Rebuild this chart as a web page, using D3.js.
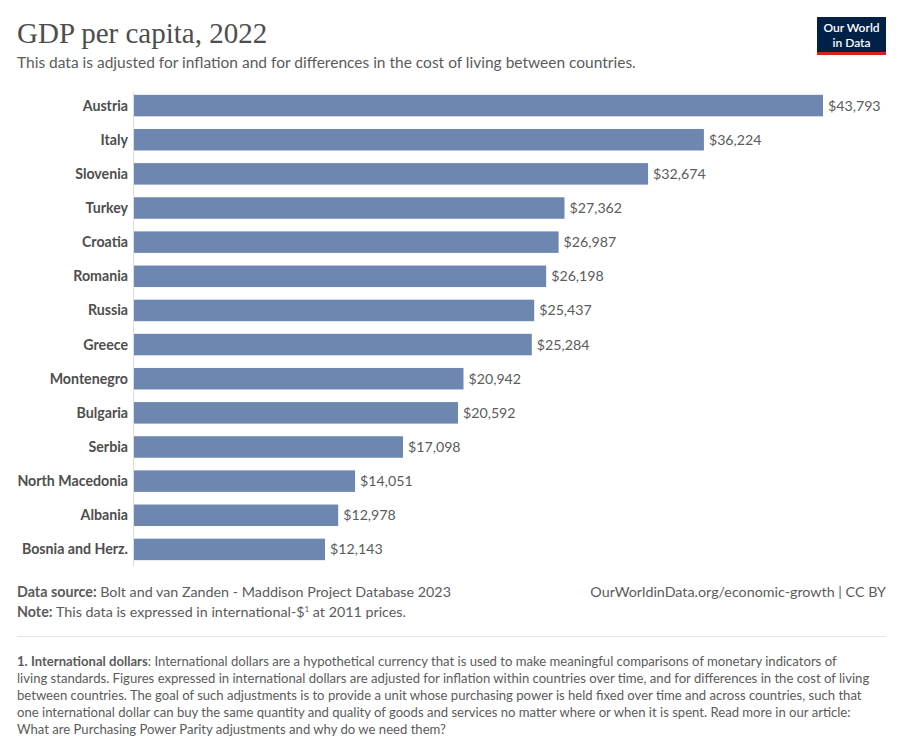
<!DOCTYPE html>
<html>
<head>
<meta charset="utf-8">
<script src="https://cdn.jsdelivr.net/npm/d3@7"></script>
<style>
  body { margin: 0; background: #fff; }
  svg { display: block; font-family: Lato, "Noto Sans", sans-serif; }
</style>
</head>
<body>
<svg id="chart" width="903" height="750"></svg>
<script>
var countries = ["Austria", "Italy", "Slovenia", "Turkey", "Croatia", "Romania", "Russia",
  "Greece", "Montenegro", "Bulgaria", "Serbia", "North Macedonia", "Albania", "Bosnia and Herz."];
var gdp = [43793, 36224, 32674, 27362, 26987, 26198, 25437, 25284, 20942, 20592, 17098, 14051, 12978, 12143];

var footnoteLines = [
  "living standards. Figures expressed in international dollars are adjusted for inflation within countries over time, and for differences in the cost of living",
  "between countries. The goal of such adjustments is to provide a unit whose purchasing power is held fixed over time and across countries, such that",
  "one international dollar can buy the same quantity and quality of goods and services no matter where or when it is spent. Read more in our article:",
  "What are Purchasing Power Parity adjustments and why do we need them?"
];

var svg = d3.select("#chart");

// header
svg.append("text")
  .attr("x", 17).attr("y", 43)
  .style("font-family", "'Liberation Serif', 'DejaVu Serif', serif")
  .style("font-size", "29px")
  .style("fill", "#4e4e4e")
  .text("GDP per capita, 2022");

svg.append("text")
  .attr("x", 17).attr("y", 68)
  .style("font-size", "15.5px")
  .style("fill", "#5b5b5b")
  .text("This data is adjusted for inflation and for differences in the cost of living between countries.");

// logo
var logo = svg.append("g").attr("transform", "translate(817,17)");
logo.append("rect").attr("width", 69).attr("height", 38).style("fill", "#002147");
logo.append("rect").attr("y", 35).attr("width", 69).attr("height", 3).style("fill", "#ce261e");
logo.append("text").attr("x", 34.5).attr("y", 15).attr("text-anchor", "middle")
  .style("font-size", "12px").style("fill", "#fff").style("font-weight", "600")
  .text("Our World");
logo.append("text").attr("x", 34.5).attr("y", 29.5).attr("text-anchor", "middle")
  .style("font-size", "12px").style("fill", "#fff").style("font-weight", "600")
  .text("in Data");

// scales
var x = d3.scaleLinear().domain([0, d3.max(gdp)]).range([134, 823]);
var y = d3.scaleBand().domain(countries).range([88, 567]).paddingInner(0.37).paddingOuter(0.2);

var data = countries.map(function (c, i) { return { name: c, value: gdp[i] }; });

// vertical axis line
svg.append("line")
  .attr("x1", 133.5).attr("x2", 133.5)
  .attr("y1", 92).attr("y2", 566)
  .style("stroke", "#dddddd").style("stroke-width", 1);

svg.append("g")
  .selectAll("rect")
  .data(data)
  .enter()
  .append("rect")
  .attr("x", x(0))
  .attr("y", function (d) { return y(d.name); })
  .attr("width", function (d) { return x(d.value) - x(0); })
  .attr("height", y.bandwidth())
  .style("fill", "#6d87b0");

svg.append("g")
  .selectAll("text")
  .data(data)
  .enter()
  .append("text")
  .attr("x", 128)
  .attr("y", function (d) { return y(d.name) + y.bandwidth() / 2; })
  .attr("dy", "0.35em")
  .attr("text-anchor", "end")
  .style("font-size", "14.2px")
  .style("font-weight", "bold")
  .style("fill", "#4e4e4e")
  .text(function (d) { return d.name; });

svg.append("g")
  .selectAll("text")
  .data(data)
  .enter()
  .append("text")
  .attr("x", function (d) { return x(d.value) + 5; })
  .attr("y", function (d) { return y(d.name) + y.bandwidth() / 2; })
  .attr("dy", "0.35em")
  .style("font-size", "14.2px")
  .style("fill", "#5b5b5b")
  .text(function (d) { return "$" + d3.format(",")(d.value); });

// footer
var src = svg.append("text").attr("x", 17).attr("y", 597)
  .style("font-size", "14.3px").style("fill", "#5b5b5b");
src.append("tspan").style("font-weight", "bold").text("Data source: ");
src.append("tspan").text("Bolt and van Zanden - Maddison Project Database 2023");

var note = svg.append("text").attr("x", 17).attr("y", 617)
  .style("font-size", "14.3px").style("fill", "#5b5b5b");
note.append("tspan").style("font-weight", "bold").text("Note: ");
note.append("tspan").text("This data is expressed in international-$");
note.append("tspan").attr("dy", -5).style("font-size", "8px").text("1");
note.append("tspan").attr("dy", 5).text(" at 2011 prices.");

svg.append("text").attr("x", 886).attr("y", 597).attr("text-anchor", "end")
  .style("font-size", "14.3px").style("fill", "#5b5b5b")
  .text("OurWorldinData.org/economic-growth | CC BY");

svg.append("line")
  .attr("x1", 17).attr("x2", 886).attr("y1", 636.5).attr("y2", 636.5)
  .style("stroke", "#e6e6e6");

var fn = svg.append("text").attr("x", 17).attr("y", 666)
  .style("font-size", "13.1px").style("fill", "#5b5b5b");
fn.append("tspan").style("font-weight", "bold").text("1. International dollars");
fn.append("tspan").text(": International dollars are a hypothetical currency that is used to make meaningful comparisons of monetary indicators of");

svg.append("g")
  .selectAll("text")
  .data(footnoteLines)
  .enter()
  .append("text")
  .attr("x", 17)
  .attr("y", function (d, i) { return 683 + i * 17; })
  .style("font-size", "13.1px")
  .style("fill", "#5b5b5b")
  .text(function (d) { return d; });
</script>
</body>
</html>
